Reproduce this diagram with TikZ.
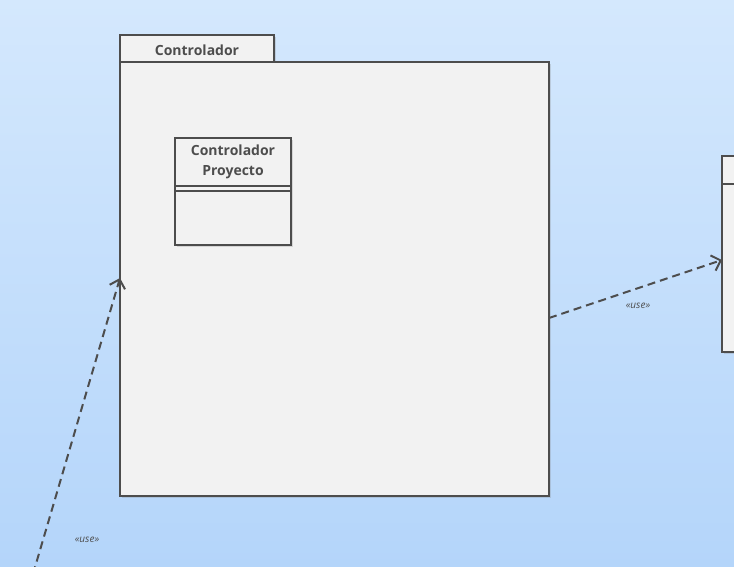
\documentclass[tikz,border=0pt]{standalone}
\usepackage{fontspec}
\setmainfont{Open Sans}
\usetikzlibrary{
    positioning,      % For placing nodes relative to each other
    arrows.meta,      % For modern arrow tips
    shadows           % For soft drop shadows
}
\definecolor{edgegray}{HTML}{4D4D4D}
\definecolor{boxfill}{HTML}{F2F2F2}
\definecolor{skytop}{HTML}{D4E8FD}
\definecolor{skybottom}{HTML}{B4D5FA}

\begin{document}
\begin{tikzpicture}[
    x=1pt, y=-1pt,
    % Global style settings
    box_style/.style={
        draw=edgegray,
        fill=boxfill,
        line width=2pt,
        inner sep=0pt,
        outer sep=0pt,
        anchor=north west,
        drop shadow={shadow xshift=2pt, shadow yshift=-2pt, opacity=0.25, fill=gray}
    },
    title_style/.style={
        text=edgegray,
        font=\bfseries\fontsize{14}{20}\selectfont,
        align=center,
        inner sep=0pt
    },
    use_dep/.style={
        draw=edgegray,
        line width=2pt,
        dash pattern=on 8pt off 5pt,
        -{Straight Barb[length=8pt, width=16pt]}
    },
    use_label/.style={
        text=edgegray,
        font=\itshape\fontsize{10}{12}\selectfont,
        inner sep=0pt
    }
]
    % 1. Background and clipping frame.
    \shade[top color=skytop, bottom color=skybottom] (0,0) rectangle (734,567);
    \useasboundingbox (0,0) rectangle (734,567);
    \clip (0,0) rectangle (734,567);

    % 2. The package "Controlador" with its tab.
    \node[box_style, minimum width=154pt, minimum height=27pt] (pkgtab) at (120,35) {};
    \node[title_style] (pkgname) at (197,50) {Controlador};
    \node[box_style, minimum width=429pt, minimum height=434pt] (pkg) at (120,62) {};

    % 3. The class "Controlador Proyecto" inside the package.
    \node[box_style, minimum width=116pt, minimum height=107pt] (ctrlproj) at (175,138) {};
    \node[title_style] (ctrlprojname) at (233,162) {Controlador\\Proyecto};
    \draw[edgegray, line width=2pt] (175,186) -- (291,186);
    \draw[edgegray, line width=2pt] (175,191) -- (291,191);

    % 4. The box on the right edge, cut off by the frame.
    \node[box_style, minimum width=60pt, minimum height=196pt] (rightbox) at (722,156) {};
    \draw[edgegray, line width=2pt] (722,184) -- (782,184);

    % 5. The two <<use>> dependencies.
    \coordinate (pkgout) at (549,318);
    \coordinate (rightin) at (722,260);
    \draw[use_dep] (pkgout) -- (rightin);
    \node[use_label] (uselabelright) at (638,306) {«use»};

    \coordinate (offbottom) at (33,574);
    \coordinate (pkgin) at (120,278);
    \draw[use_dep] (offbottom) -- (pkgin);
    \node[use_label] (uselabelleft) at (87,540) {«use»};

\end{tikzpicture}
\end{document}
